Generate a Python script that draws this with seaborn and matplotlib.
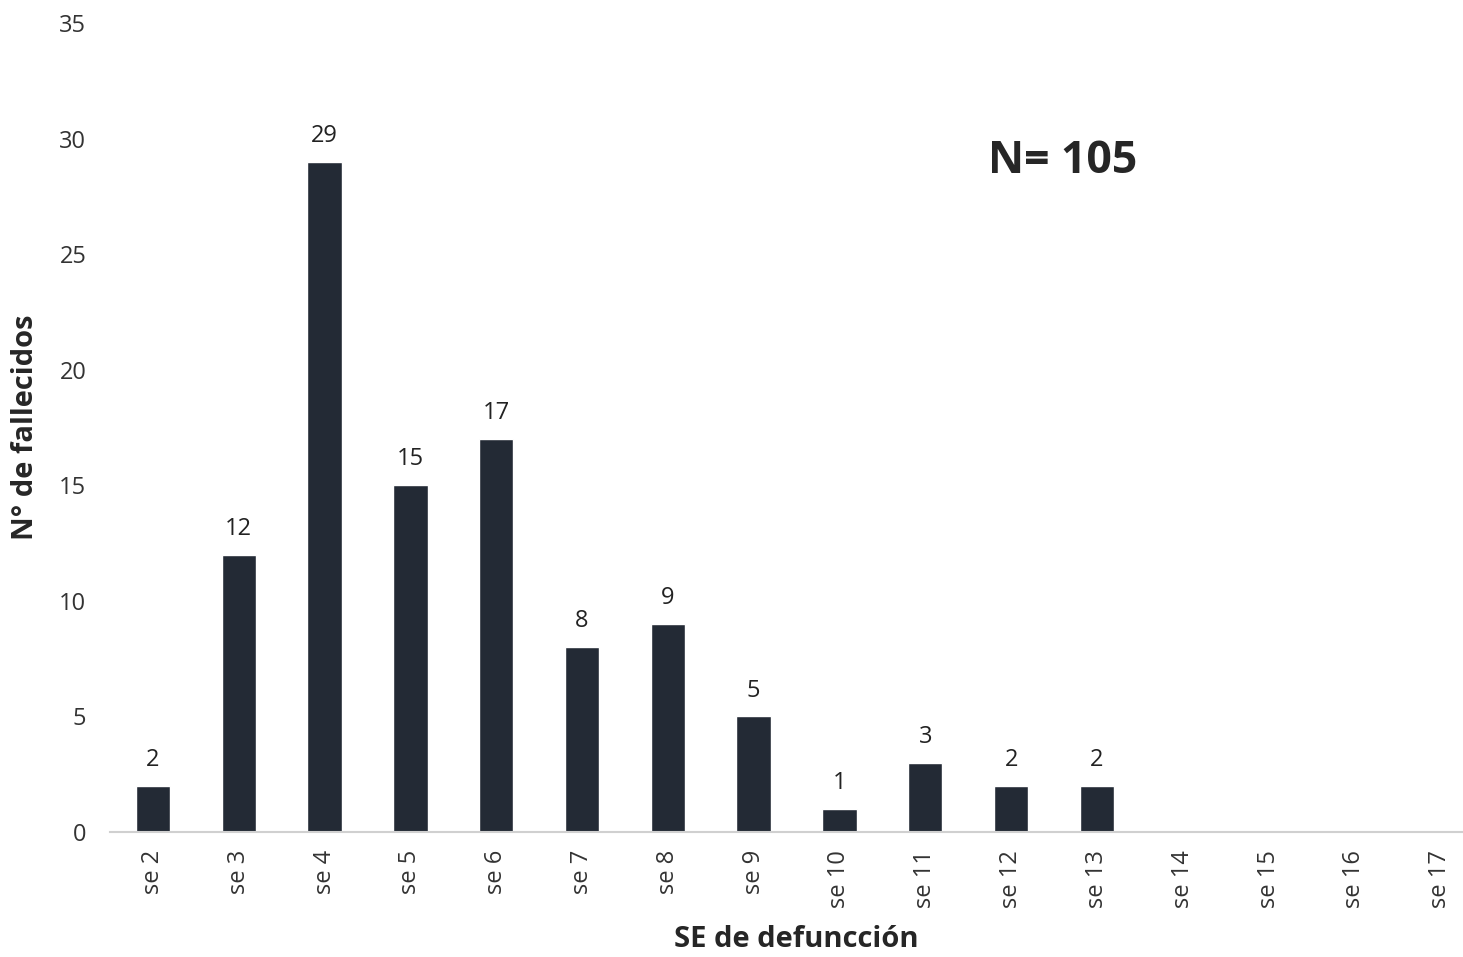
import seaborn as sns
import matplotlib.pyplot as plt
import pandas as pd

semanas = ['se 2', 'se 3', 'se 4', 'se 5', 'se 6', 'se 7', 'se 8', 'se 9',
           'se 10', 'se 11', 'se 12', 'se 13', 'se 14', 'se 15', 'se 16', 'se 17']
fallecidos = [2, 12, 29, 15, 17, 8, 9, 5, 1, 3, 2, 2, 0, 0, 0, 0]

sns.set_style('white')
plt.rcParams['font.family'] = ['Open Sans', 'DejaVu Sans']

df = pd.DataFrame({'se': semanas, 'n': fallecidos})

fig = plt.figure(figsize=(14.63, 9.57), dpi=100)
ax = fig.add_axes([0.0752, 0.1306, 0.9385, 0.8454])

sns.barplot(data=df, x='se', y='n', color='#232a35', width=0.4, saturation=1, ax=ax)

# etiquetas sobre las barras (solo las no nulas)
for i, v in enumerate(fallecidos):
    if v > 0:
        ax.text(i, v + 0.6, str(v), ha='center', va='bottom', fontsize=17, color='#222222')

ax.set_xlim(-0.5, len(semanas) - 0.5)
ax.set_ylim(0, 35)
ax.set_yticks(range(0, 36, 5))
ax.tick_params(axis='y', labelsize=17, colors='#333333', length=0, pad=17)
ax.tick_params(axis='x', labelsize=17, colors='#333333', length=0, pad=13, labelrotation=90)

for s in ['top', 'right', 'left']:
    ax.spines[s].set_visible(False)
ax.spines['bottom'].set_color('#d0d0d0')
ax.spines['bottom'].set_linewidth(1.5)

ax.set_xlabel('SE de defuncción', fontsize=21, fontweight='bold', labelpad=12)
ax.set_ylabel('N° de fallecidos', fontsize=21, fontweight='bold', labelpad=14)

ax.text(10.6, 29.0, 'N= 105', ha='center', va='center', fontsize=32, fontweight='bold')

fig.savefig('out.png', dpi=100)
